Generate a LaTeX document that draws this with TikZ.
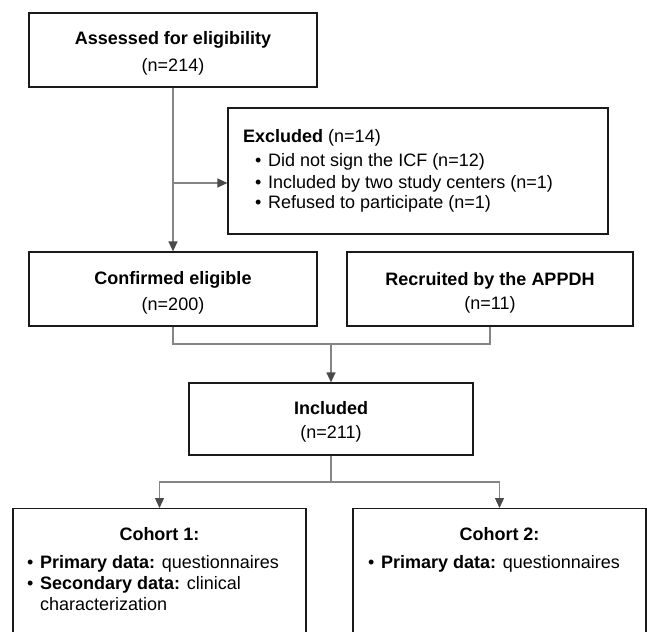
\documentclass[tikz,border=0pt]{standalone}
\usepackage{fontspec}
\setmainfont{Liberation Sans}
\usetikzlibrary{arrows.meta}
\definecolor{boxline}{HTML}{1A1A1A}
\definecolor{connline}{HTML}{858585}
\definecolor{tipcol}{HTML}{4A4A4A}
\newcommand{\blt}{\makebox[13pt][l]{\textbullet}}
\newcommand{\lowr}{\rule{0pt}{20pt}}
\begin{document}
\begin{tikzpicture}[x=1pt,y=1pt,
  box/.style={draw=boxline, line width=1.25pt, rectangle, inner sep=0pt, align=center},
  conn/.style={draw=connline, line width=1.3pt},
  arr/.style={conn, -{Triangle[length=10pt,width=9pt,color=tipcol]}},
  txt/.style={inner sep=0pt, font=\fontsize{18}{21}\selectfont}
]
\useasboundingbox (0,0) rectangle (647,-631);
\clip (0,0) rectangle (647,-631);

% boxes
\node[box, minimum width=288pt, minimum height=74pt, font=\fontsize{18}{27}\selectfont] (A) at (173,-50)
  {\lowr\textbf{Assessed for eligibility}\\(n=214)};
\node[box, minimum width=380pt, minimum height=126pt] (E) at (418,-171) {};
\node[box, minimum width=288pt, minimum height=74pt, font=\fontsize{18}{26}\selectfont] (C) at (173,-289)
  {\lowr\textbf{Confirmed eligible}\\(n=200)};
\node[box, minimum width=286pt, minimum height=74pt, font=\fontsize{18}{24}\selectfont] (R) at (490,-289)
  {\lowr\textbf{Recruited by the APPDH}\\(n=11)};
\node[box, minimum width=284pt, minimum height=72pt, font=\fontsize{18}{24}\selectfont] (I) at (331,-419)
  {\rule{0pt}{18pt}\textbf{Included}\\(n=211)};
\node[box, minimum width=293pt, minimum height=150pt, anchor=north] (C1) at (159.5,-508) {};
\node[box, minimum width=293pt, minimum height=150pt, anchor=north] (C2) at (499.5,-508) {};

% texts
\node[txt, anchor=base west] (Et) at (243,-143)
  {\begin{tabular}[t]{@{}l@{}}
   \textbf{Excluded} (n=14)\\[3pt]
   \hspace*{12pt}\blt Did not sign the ICF (n=12)\\
   \hspace*{12pt}\blt Included by two study centers (n=1)\\
   \hspace*{12pt}\blt Refused to participate (n=1)
   \end{tabular}};
\node[txt, anchor=base] (C1h) at (159.5,-540) {\textbf{Cohort 1:}};
\node[txt, anchor=base west] (C1b) at (27,-568)
  {\begin{tabular}[t]{@{}l@{}}
   \blt\textbf{Primary data:} questionnaires\\
   \blt\textbf{Secondary data:} clinical\\
   \hspace*{13pt}characterization
   \end{tabular}};
\node[txt, anchor=base] (C2h) at (499.5,-540) {\textbf{Cohort 2:}};
\node[txt, anchor=base west] (C2b) at (368,-568)
  {\blt\textbf{Primary data:} questionnaires};

% connectors
\draw[arr] (A.south) -- (C.north);
\coordinate (br) at (173,-183);
\draw[arr] (br) -- (br -| E.west);
\coordinate (j1) at (331,-344);
\draw[conn] (C.south) |- (j1) -| (R.south);
\draw[arr] (j1) -- (I.north);
\coordinate (j2) at (331,-482);
\draw[conn] (I.south) -- (j2);
\draw[arr] (j2) -| (C1.north);
\draw[arr] (j2) -| (C2.north);
\end{tikzpicture}
\end{document}
